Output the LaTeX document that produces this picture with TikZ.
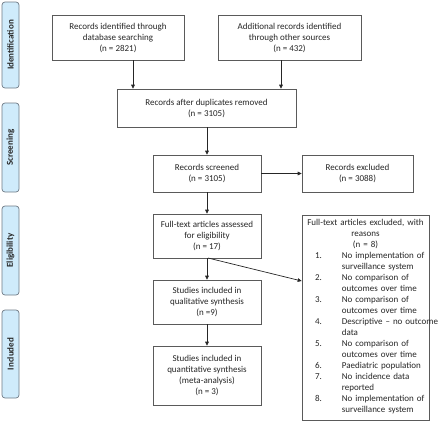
\documentclass[tikz,border=0pt]{standalone}
\usepackage{fontspec}
\setmainfont{Carlito}
\usetikzlibrary{arrows.meta}
\definecolor{bandfill}{HTML}{CFEBFB}
\definecolor{bandline}{HTML}{6F7B86}
\definecolor{boxline}{HTML}{5A5A5A}
\definecolor{txt}{HTML}{262626}
\tikzset{
  every node/.style={font=\fontsize{9}{11}\selectfont, text=txt},
  box/.style={draw=boxline, line width=0.6pt, fill=white, align=center, inner sep=2pt},
  band/.style={draw=bandline, fill=bandfill, rounded corners=3pt, line width=0.7pt,
    minimum height=17pt, rotate=90, inner sep=0pt, font=\bfseries\fontsize{9}{11}\selectfont},
  arr/.style={-{Triangle[length=4pt,width=3.6pt]}, line width=0.7pt, draw=txt}
}
\begin{document}
\begin{tikzpicture}[x=1pt,y=-1pt]
\useasboundingbox (0,0) rectangle (440,424);
% side bands
\node[band, minimum width=86pt] (b1) at (10.5,45) {Identification};
\node[band, minimum width=89pt] (b2) at (10.5,147.5) {Screening};
\node[band, minimum width=89pt] (b3) at (10.5,250.5) {Eligibility};
\node[band, minimum width=88pt] (b4) at (10.5,354) {Included};
% boxes
\node[box, minimum width=132pt, minimum height=45pt] (A) at (118,37.5)
  {Records identified through\\database searching\\(n = 2821)};
\node[box, minimum width=143pt, minimum height=45pt] (B) at (289.5,37.5)
  {Additional records identified\\through other sources\\(n = 432)};
\node[box, minimum width=179pt, minimum height=38pt] (C) at (206.5,108)
  {Records after duplicates removed\\(n = 3105)};
\node[box, minimum width=108pt, minimum height=37pt] (D) at (207,173.5)
  {Records screened\\(n = 3105)};
\node[box, minimum width=111pt, minimum height=37pt] (E) at (357.5,173.5)
  {Records excluded\\(n = 3088)};
\node[box, minimum width=108pt, minimum height=44pt] (F) at (207,236)
  {Full-text articles assessed\\for eligibility\\(n = 17)};
\node[box, minimum width=108pt, minimum height=44pt] (H) at (207,302)
  {Studies included in\\qualitative synthesis\\(n =9)};
\node[box, minimum width=108pt, minimum height=59pt] (I) at (207,375.5)
  {Studies included in\\quantitative synthesis\\(meta-analysis)\\(n = 3)};
\node[box, minimum width=127pt, minimum height=205pt, text width=123pt] (G) at (365.5,317.5)
  {Full-text articles excluded, with\\reasons\\(n = 8)\\
   \makebox[123pt][l]{\hspace{11pt}\begin{tabular}[t]{@{}r@{\hspace{20pt}}l@{}}
   1. & No implementation of\\
      & surveillance system\\
   2. & No comparison of\\
      & outcomes over time\\
   3. & No comparison of\\
      & outcomes over time\\
   4. & Descriptive -- no outcome\\
      & data\\
   5. & No comparison of\\
      & outcomes over time\\
   6. & Paediatric population\\
   7. & No incidence data\\
      & reported\\
   8. & No implementation of\\
      & surveillance system
   \end{tabular}}};
% connectors
\coordinate (xa) at (133,0);
\coordinate (xb) at (281,0);
\coordinate (gin) at (302,281);
\coordinate (fout) at (208,258);
\draw[arr] (A.south -| xa) -- (C.north -| xa);
\draw[arr] (B.south -| xb) -- (C.north -| xb);
\draw[arr] (C.south -| D.north) -- (D.north);
\draw[arr] (D.east) -- (E.west);
\draw[arr] (D.south) -- (F.north);
\draw[arr] (F.south) -- (H.north);
\draw[arr] (H.south) -- (I.north);
\draw[arr] (fout) -- (G.west |- gin);
\end{tikzpicture}
\end{document}
